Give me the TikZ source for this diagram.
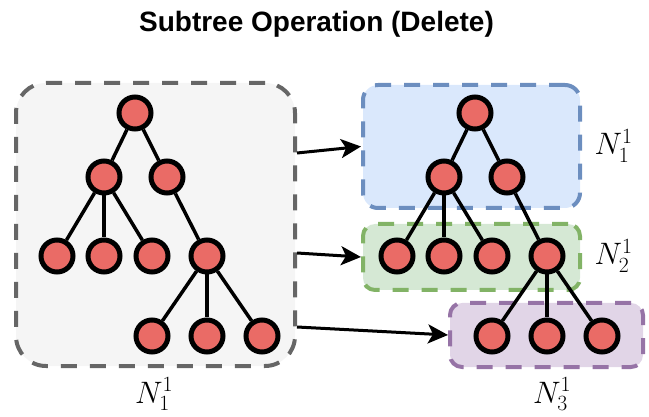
\RequirePackage{fix-cm}
\documentclass[tikz,border=0pt]{standalone}
\usepackage{fontspec}
\newfontfamily\titlefont{Liberation Sans}
\usetikzlibrary{arrows.meta,positioning}

\definecolor{nodered}{HTML}{EA6B66}
\definecolor{boxgray}{HTML}{F5F5F5}
\definecolor{linegray}{HTML}{666666}
\definecolor{blueback}{HTML}{DAE8FC}
\definecolor{blueline}{HTML}{6C8EBF}
\definecolor{greenback}{HTML}{D5E8D4}
\definecolor{greenline}{HTML}{82B366}
\definecolor{purpleback}{HTML}{E1D5E7}
\definecolor{purpleline}{HTML}{9673A6}

\tikzset{
  treenode/.style={circle, draw, fill=nodered, line width=5pt, minimum size=32pt, inner sep=0pt},
  group/.style={draw, line width=4pt, dash pattern=on 16pt off 13pt, inner sep=0pt},
  edge/.style={line width=3.5pt},
  arr/.style={line width=3pt, -{Stealth[length=20pt, width=19pt, inset=5pt]}},
  lab/.style={font=\fontsize{31}{37}\selectfont, inner sep=0pt, anchor=base}
}

% one tree, node names get the scope's prefix
\newcommand{\drawtree}{%
  \node[treenode] (n0) at (135,113) {};
  \node[treenode] (n1) at (104,177) {};
  \node[treenode] (n2) at (167,177) {};
  \node[treenode] (n3) at (57,256) {};
  \node[treenode] (n4) at (104,256) {};
  \node[treenode] (n5) at (152,256) {};
  \node[treenode] (n6) at (207,256) {};
  \node[treenode] (n7) at (152,336) {};
  \node[treenode] (n8) at (207,336) {};
  \node[treenode] (n9) at (262,336) {};
  \draw[edge] (n0) -- (n1);
  \draw[edge] (n0) -- (n2);
  \foreach \c in {3,4,5} \draw[edge] (n1) -- (n\c);
  \draw[edge] (n2) -- (n6);
  \foreach \c in {7,8,9} \draw[edge] (n6) -- (n\c);
}

\begin{document}
\begin{tikzpicture}[x=1pt, y=-1pt]
    \useasboundingbox (0,0) rectangle (649,417);

    \node[font=\titlefont\bfseries\fontsize{28}{34}\selectfont, inner sep=0pt, anchor=base]
        (title) at (316.5,32) {Subtree Operation (Delete)};

    % groups
    \node[group, draw=linegray, fill=boxgray, rounded corners=30pt,
          minimum width=279pt, minimum height=283pt] (whole) at (155.5,224.5) {};
    \node[group, draw=blueline, fill=blueback, rounded corners=15pt,
          minimum width=217pt, minimum height=123pt] (first) at (471.5,146.5) {};
    \node[group, draw=greenline, fill=greenback, rounded corners=12pt,
          minimum width=217pt, minimum height=66pt] (second) at (471.5,257) {};
    \node[group, draw=purpleline, fill=purpleback, rounded corners=12pt,
          minimum width=193pt, minimum height=64pt] (third) at (546.5,335) {};

    \node[lab] (lwhole) at (154,403) {$N_1^1$};
    \node[lab] (lfirst) at (613.5,155) {$N_1^1$};
    \node[lab] (lsecond) at (613.5,265) {$N_2^1$};
    \node[lab] (lthird) at (552,403) {$N_3^1$};

    % trees
    \begin{scope}[name prefix=l]
        \drawtree
    \end{scope}
    \begin{scope}[xshift=340pt, name prefix=r]
        \drawtree
    \end{scope}

    \draw[arr] ([yshift=71.5pt]whole.east) -- (first.west);
    \draw[arr] ([yshift=-28.5pt]whole.east) -- (second.west);
    \draw[arr] ([yshift=-102.5pt]whole.east) -- (third.west);
\end{tikzpicture}
\end{document}
